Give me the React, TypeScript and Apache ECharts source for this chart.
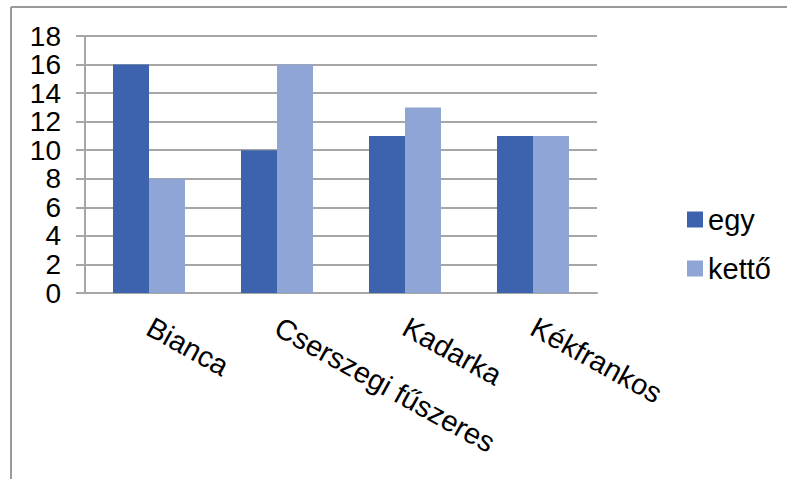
import React, { useEffect, useRef } from "react";
import * as echarts from "echarts";

const categories = ["Bianca", "Cserszegi fűszeres", "Kadarka", "Kékfrankos"];
const egyValues = [16, 10, 11, 11];
const kettoValues = [8, 16, 13, 11];
const seriesNames = ["egy", "kettő"];

const FONT = "'Liberation Sans', Arial, sans-serif";
const GRID_GRAY = "#a6a6a6";
const FONT_SIZE = 29;

export default function App() {
  const ref = useRef<HTMLDivElement>(null);

  useEffect(() => {
    if (!ref.current) return;
    const chart = echarts.init(ref.current, null, { renderer: "svg" });
    chart.setOption({
      animation: false,
      backgroundColor: "#ffffff",
      textStyle: { fontFamily: FONT },
      grid: { left: 85, right: 190, top: 36, bottom: 186 },
      legend: {
        orient: "vertical",
        left: 687,
        top: 205,
        padding: 0,
        itemWidth: 16,
        itemHeight: 16,
        itemGap: 20,
        icon: "rect",
        textStyle: { fontSize: FONT_SIZE, color: "#000", fontFamily: FONT },
        data: seriesNames,
      },
      xAxis: {
        type: "category",
        data: categories,
        axisLine: { lineStyle: { color: GRID_GRAY, width: 2 } },
        axisTick: { length: 9, lineStyle: { color: GRID_GRAY, width: 2 } },
        axisLabel: {
          interval: 0,
          rotate: -29,
          margin: 32,
          fontSize: FONT_SIZE,
          color: "#000",
          fontFamily: FONT,
        },
      },
      yAxis: {
        type: "value",
        min: 0,
        max: 18,
        interval: 2,
        axisLine: { show: true, lineStyle: { color: GRID_GRAY, width: 2 } },
        axisTick: { show: true, length: 9, lineStyle: { color: GRID_GRAY, width: 2 } },
        splitLine: { lineStyle: { color: GRID_GRAY, width: 2 } },
        axisLabel: {
          margin: 24,
          fontSize: 28,
          showMinLabel: true,
          showMaxLabel: true,
          color: "#000",
          fontFamily: FONT,
        },
      },
      series: [
        {
          name: seriesNames[0],
          type: "bar",
          data: egyValues,
          barGap: "0%",
          barCategoryGap: "43.75%",
          itemStyle: { color: "#3d63ae" },
        },
        {
          name: seriesNames[1],
          type: "bar",
          data: kettoValues,
          barGap: "0%",
          barCategoryGap: "43.75%",
          itemStyle: { color: "#8fa5d5" },
        },
      ],
      graphic: [
        {
          type: "line",
          shape: { x1: 11, y1: 7, x2: 787, y2: 7 },
          style: { stroke: "#9a9a9a", lineWidth: 2 },
        },
        {
          type: "line",
          shape: { x1: 11, y1: 7, x2: 11, y2: 479 },
          style: { stroke: "#9a9a9a", lineWidth: 2 },
        },
      ],
    });
    return () => chart.dispose();
  }, []);

  return (
    <div
      ref={ref}
      style={{ position: "fixed", left: 0, top: 0, width: 787, height: 479 }}
    />
  );
}
